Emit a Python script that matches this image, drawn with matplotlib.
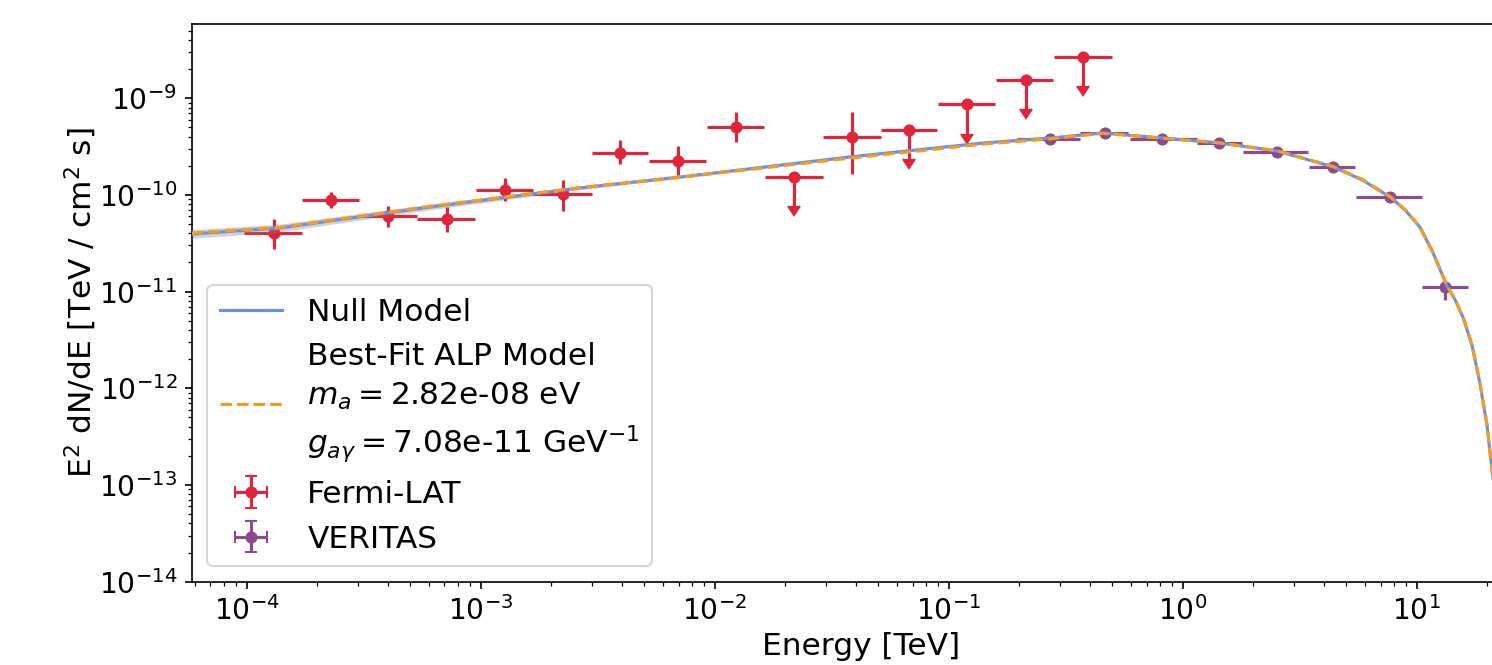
import matplotlib.pyplot as plt
import numpy as np

# Fermi-LAT points (energy in TeV, E^2 dN/dE in TeV / cm^2 s)
fermi_e = [1.31e-4, 2.29e-4, 4.02e-4, 7.16e-4, 1.27e-3, 2.25e-3, 3.94e-3, 6.97e-3,
           1.23e-2, 2.19e-2, 3.86e-2, 6.76e-2, 0.120, 0.213, 0.376]
fermi_e_lo = [9.7e-5, 1.73e-4, 3.05e-4, 5.35e-4, 9.53e-4, 1.67e-3, 2.99e-3, 5.24e-3,
              9.25e-3, 1.64e-2, 2.90e-2, 5.14e-2, 0.090, 0.159, 0.282]
fermi_e_hi = [1.72e-4, 3.02e-4, 5.32e-4, 9.46e-4, 1.67e-3, 2.99e-3, 5.19e-3, 9.18e-3,
              1.63e-2, 2.90e-2, 5.12e-2, 8.91e-2, 0.158, 0.280, 0.499]
fermi_f = [4.06e-11, 8.85e-11, 6.05e-11, 5.60e-11, 1.12e-10, 1.02e-10, 2.73e-10, 2.22e-10,
           5.07e-10, 1.54e-10, 4.00e-10, 4.69e-10, 8.65e-10, 1.54e-9, 2.69e-9]
fermi_f_lo = [2.76e-11, 7.33e-11, 4.66e-11, 4.10e-11, 8.71e-11, 6.87e-11, 2.09e-10, 1.61e-10,
              3.55e-10, 7.7e-11, 1.64e-10, 2.35e-10, 4.3e-10, 7.7e-10, 1.35e-9]
fermi_f_hi = [5.64e-11, 1.07e-10, 7.73e-11, 7.55e-11, 1.51e-10, 1.43e-10, 3.67e-10, 3.23e-10,
              7.24e-10, 1.54e-10, 7.24e-10, 4.69e-10, 8.65e-10, 1.54e-9, 2.69e-9]
fermi_ul = [False, False, False, False, False, False, False, False,
            False, True, False, True, True, True, True]

# VERITAS points
veritas_e = [0.271, 0.466, 0.817, 1.429, 2.53, 4.39, 7.69, 13.2]
veritas_e_lo = [0.196, 0.364, 0.595, 1.151, 1.81, 3.47, 5.51, 10.5]
veritas_e_hi = [0.364, 0.584, 1.151, 1.792, 3.43, 5.45, 10.5, 16.6]
veritas_f = [3.76e-10, 4.34e-10, 3.76e-10, 3.42e-10, 2.80e-10, 1.96e-10, 9.57e-11, 1.11e-11]
veritas_f_lo = [3.64e-10, 4.24e-10, 3.67e-10, 3.33e-10, 2.72e-10, 1.89e-10, 9.1e-11, 8.2e-12]
veritas_f_hi = [3.88e-10, 4.44e-10, 3.85e-10, 3.51e-10, 2.88e-10, 2.03e-10, 1.0e-10, 1.23e-11]

# Modèles
model_e = [5.83e-5, 1.39e-4, 6.07e-4, 2.65e-3, 7.11e-3, 3.78e-2, 0.140, 0.271, 0.456, 0.824,
           1.445, 2.53, 4.39, 5.84, 7.69, 8.91, 10.3, 11.7, 13.5, 14.6, 15.8, 17.2, 18.6,
           19.95, 21.0, 22.9]
null_f = [3.94e-11, 4.55e-11, 7.50e-11, 1.18e-10, 1.53e-10, 2.47e-10, 3.44e-10, 3.87e-10,
          4.37e-10, 3.87e-10, 3.44e-10, 2.84e-10, 1.95e-10, 1.43e-10, 9.50e-11, 6.98e-11,
          4.66e-11, 2.56e-11, 1.12e-11, 8.18e-12, 5.33e-12, 2.81e-12, 1.14e-12,
          4.17e-13, 1.36e-13, 2.5e-14]
null_lo = [3.55e-11, 4.15e-11, 7.00e-11, 1.13e-10, 1.48e-10, 2.41e-10, 3.38e-10, 3.80e-10,
           4.29e-10, 3.80e-10, 3.38e-10, 2.78e-10, 1.91e-10, 1.40e-10, 9.30e-11, 6.83e-11,
           4.55e-11, 2.50e-11, 1.09e-11, 7.99e-12, 5.20e-12, 2.74e-12, 1.11e-12,
           4.07e-13, 1.32e-13, 2.4e-14]
null_hi = [4.37e-11, 4.99e-11, 8.04e-11, 1.24e-10, 1.58e-10, 2.53e-10, 3.50e-10, 3.94e-10,
           4.45e-10, 3.94e-10, 3.50e-10, 2.90e-10, 1.99e-10, 1.46e-10, 9.70e-11, 7.13e-11,
           4.77e-11, 2.62e-11, 1.15e-11, 8.37e-12, 5.46e-12, 2.88e-12, 1.17e-12,
           4.27e-13, 1.40e-13, 2.6e-14]
alp_f = [4.03e-11, 4.62e-11, 7.60e-11, 1.19e-10, 1.52e-10, 2.40e-10, 3.35e-10, 3.80e-10,
         4.33e-10, 3.85e-10, 3.44e-10, 2.86e-10, 1.97e-10, 1.45e-10, 9.60e-11, 7.05e-11,
         4.70e-11, 2.59e-11, 1.13e-11, 8.27e-12, 5.40e-12, 2.85e-12, 1.16e-12,
         4.25e-13, 1.40e-13, 2.6e-14]

m_a = 2.82e-08
g_ag = 7.08e-11

red = '#e2243a'
purple = '#8e4a8e'
blue = '#6193ee'
orange = '#f59a23'

plt.rcParams['font.size'] = 15

fig, ax = plt.subplots(figsize=(1492 / 150, 665 / 150), dpi=150)
# la figure d'origine est coupée à droite
ax.set_position([0.1285, 0.1253, 0.8966, 0.8386])

f = np.array(fermi_f)
fermi_yerr = [f - np.array(fermi_f_lo), np.array(fermi_f_hi) - f]
e = np.array(fermi_e)
fermi_xerr = [e - np.array(fermi_e_lo), np.array(fermi_e_hi) - e]
h_fermi = ax.errorbar(fermi_e, fermi_f, xerr=fermi_xerr, yerr=fermi_yerr, uplims=fermi_ul,
                      fmt='o', color=red, ms=4.8, elinewidth=1.5, label='Fermi-LAT')

v = np.array(veritas_f)
ve = np.array(veritas_e)
ax.errorbar(veritas_e, veritas_f,
            xerr=[ve - np.array(veritas_e_lo), np.array(veritas_e_hi) - ve],
            yerr=[v - np.array(veritas_f_lo), np.array(veritas_f_hi) - v],
            fmt='o', color=purple, ms=4.8, elinewidth=1.5)
# proxy pour la légende (avec les petits traits aux extrémités)
h_ver = ax.errorbar([np.nan], [np.nan], xerr=[[1.0]], yerr=[[1.0]], fmt='o', color=purple,
                    ms=4.8, elinewidth=1.5, capsize=3, label='VERITAS')

# Bande d'incertitude et modèles
ax.fill_between(model_e, null_lo, null_hi, color='gray', alpha=0.35, lw=0, zorder=3)
h_null, = ax.plot(model_e, null_f, color=blue, lw=1.5, label='Null Model', zorder=4)
alp_label = ('Best-Fit ALP Model\n' + f'$m_a = ${m_a:.2e} eV\n'
             + f'$g_{{a\\gamma}} = ${g_ag:.2e} GeV$^{{-1}}$')
h_alp, = ax.plot(model_e, alp_f, color=orange, lw=1.5, ls='--', label=alp_label, zorder=5)

ax.set_xscale('log')
ax.set_yscale('log')
ax.set_xlim(5.82e-5, 30.3)
ax.set_ylim(1e-14, 5.85e-9)
ax.tick_params(axis='both', labelsize=13.5)

ax.set_xlabel('Energy [TeV]', labelpad=3)
ax.set_ylabel('E$^2$ dN/dE [TeV / cm$^2$ s]')
ax.yaxis.set_label_coords(-0.069, 0.5)

leg = ax.legend(handles=[h_null, h_alp, h_fermi, h_ver], loc='lower left')
leg.get_texts()[1].set_linespacing(1.4)

fig.savefig('out.png', dpi=150)
